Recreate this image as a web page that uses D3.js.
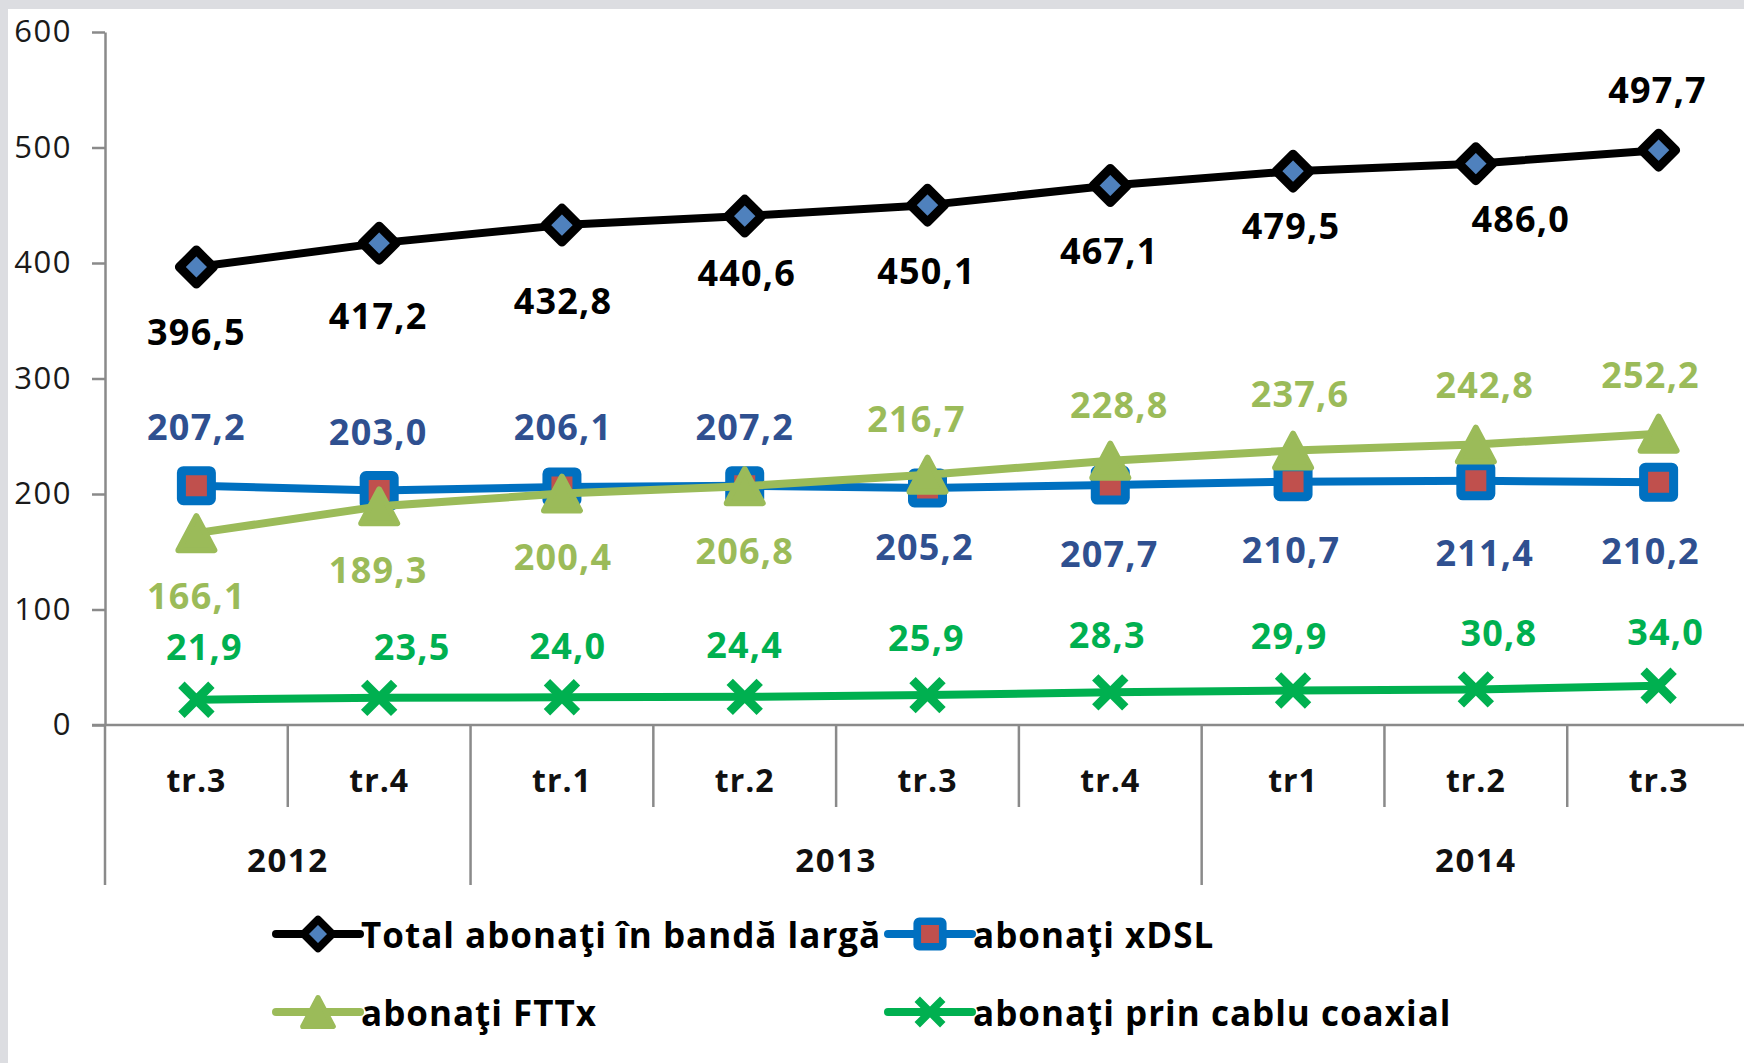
<!DOCTYPE html>
<html>
<head>
<meta charset="utf-8">
<script src="https://cdn.jsdelivr.net/npm/d3@7"></script>
<style>
  body { margin: 0; background: #dcdde1; }
  svg { display: block; }
  text { font-family: "Open Sans", "Noto Sans", sans-serif; }
</style>
</head>
<body>
<svg id="chart" width="1744" height="1063"></svg>
<script>
// data
const quarters = ["tr.3", "tr.4", "tr.1", "tr.2", "tr.3", "tr.4", "tr1", "tr.2", "tr.3"];
const years = ["2012", "2013", "2014"];
const quartersPerYear = [2, 4, 3];
const yTicks = [0, 100, 200, 300, 400, 500, 600];

const total = [396.5, 417.2, 432.8, 440.6, 450.1, 467.1, 479.5, 486.0, 497.7];
const xdsl = [207.2, 203.0, 206.1, 207.2, 205.2, 207.7, 210.7, 211.4, 210.2];
const fttx = [166.1, 189.3, 200.4, 206.8, 216.7, 228.8, 237.6, 242.8, 252.2];
const coax = [21.9, 23.5, 24.0, 24.4, 25.9, 28.3, 29.9, 30.8, 34.0];

const seriesNames = ["Total abonaţi în bandă largă", "abonaţi xDSL", "abonaţi FTTx", "abonaţi prin cablu coaxial"];

// label placement (pixel nudges, as placed by hand in the original)
const labelNudge = [
    { dx: [0, -1, 1, 2, -1, -1, -2, 45, -1], dy: [64, 72, 75, 56, 65, 65, 54, 55, -61] },
    { dx: [0, -1, 1, 0, -3, -1, -2, 9, -8], dy: [-59, -59, -60, -59, 59, 68, 68, 72, 68] },
    { dx: [0, -1, 1, 0, -11, 9, 7, 9, -8], dy: [62, 63, 63, 64, -56, -56, -57, -60, -59] },
    { dx: [8, 33, 6, 0, -1, -3, -4, 23, 7], dy: [-53, -51, -52, -52, -58, -58, -55, -57, -54] }
];

const series = [
    { name: seriesNames[0], values: total, line: "#000000", marker: "diamond", fill: "#4f81bd", labelColor: "#000000" },
    { name: seriesNames[1], values: xdsl, line: "#0070c0", marker: "square", fill: "#c0504d", labelColor: "#2f5090" },
    { name: seriesNames[2], values: fttx, line: "#9bbb59", marker: "triangle", fill: "#9bbb59", labelColor: "#9bbb59" },
    { name: seriesNames[3], values: coax, line: "#00b050", marker: "cross", fill: "none", labelColor: "#00b050" }
];

const svg = d3.select("#chart");
const axisColor = "#8a8a8a";

// white chart area
svg.append("rect")
    .attr("x", 8).attr("y", 9)
    .attr("width", 1744).attr("height", 1063)
    .attr("fill", "#ffffff");

// Scales
const x = d3.scaleBand()
    .domain(d3.range(quarters.length))
    .range([105, 1750])
    .padding(0);

const y = d3.scaleLinear()
    .domain([0, 600])
    .range([725, 32]);

const cx = i => x(i) + x.bandwidth() / 2;

// Y axis
const yAxis = svg.append("g")
    .attr("transform", "translate(105,0)")
    .call(d3.axisLeft(y).tickValues(yTicks).tickSize(13).tickPadding(20).tickSizeOuter(0));
yAxis.select(".domain").attr("stroke", axisColor).attr("stroke-width", 2.5);
yAxis.selectAll(".tick line").attr("stroke", axisColor).attr("stroke-width", 2.5);
yAxis.selectAll(".tick text")
    .style("font-family", "'Open Sans', sans-serif")
    .style("font-size", "31px")
    .style("letter-spacing", "1.5px")
    .attr("fill", "#1a1a1a");

// X axis line
svg.append("line")
    .attr("x1", 92).attr("x2", 1750)
    .attr("y1", y(0)).attr("y2", y(0))
    .attr("stroke", axisColor).attr("stroke-width", 2.5);

// quarter separators
const yearStarts = d3.cumsum([0].concat(quartersPerYear)).slice(0, -1);
d3.range(1, quarters.length).forEach(i => {
    const isYear = yearStarts.includes(i);
    svg.append("line")
        .attr("x1", x(i)).attr("x2", x(i))
        .attr("y1", y(0)).attr("y2", isYear ? 885 : 807)
        .attr("stroke", axisColor).attr("stroke-width", 2.5);
});
svg.append("line")
    .attr("x1", x(0)).attr("x2", x(0))
    .attr("y1", y(0)).attr("y2", 885)
    .attr("stroke", axisColor).attr("stroke-width", 2.5);

// quarter labels
svg.selectAll(".qlabel")
    .data(quarters)
    .join("text")
    .attr("class", "qlabel")
    .attr("x", (d, i) => cx(i))
    .attr("y", 779)
    .attr("text-anchor", "middle")
    .attr("dominant-baseline", "central")
    .style("font-size", "32px")
    .style("font-weight", "bold")
    .style("letter-spacing", "1px")
    .attr("fill", "#111")
    .text(d => d);

// year labels
svg.selectAll(".ylabel")
    .data(years)
    .join("text")
    .attr("class", "ylabel")
    .attr("x", (d, i) => {
        const a = x(yearStarts[i]);
        const b = x(yearStarts[i]) + quartersPerYear[i] * x.step();
        return (a + b) / 2;
    })
    .attr("y", 859)
    .attr("text-anchor", "middle")
    .attr("dominant-baseline", "central")
    .style("font-size", "33px")
    .style("font-weight", "bold")
    .style("letter-spacing", "1.5px")
    .attr("fill", "#111")
    .text(d => d);

// marker drawing
function drawMarker(g, type, color, fill, scale) {
    const k = scale || 1;
    if (type === "diamond") {
        const r = 17 * k;
        g.append("path")
            .attr("d", `M0,${-r}L${r},0L0,${r}L${-r},0Z`)
            .attr("fill", fill).attr("stroke", color)
            .attr("stroke-width", 9 * k).attr("stroke-linejoin", "round");
    } else if (type === "square") {
        const h = 15 * k;
        g.append("rect")
            .attr("x", -h).attr("y", -h).attr("width", 2 * h).attr("height", 2 * h)
            .attr("rx", 2)
            .attr("fill", fill).attr("stroke", color)
            .attr("stroke-width", 9 * k).attr("stroke-linejoin", "round");
    } else if (type === "triangle") {
        const w = 18 * k, h = 17 * k;
        g.append("path")
            .attr("d", `M0,${-h}L${w},${h}L${-w},${h}Z`)
            .attr("fill", fill).attr("stroke", color)
            .attr("stroke-width", 6 * k).attr("stroke-linejoin", "round");
    } else if (type === "cross") {
        const a = 15 * k;
        g.append("path")
            .attr("d", `M${-a},${-a}L${a},${a}M${a},${-a}L${-a},${a}`)
            .attr("fill", "none").attr("stroke", color)
            .attr("stroke-width", 9 * k);
    }
}

// Lines and markers
const line = d3.line()
    .x((d, i) => cx(i))
    .y(d => y(d));

series.forEach(s => {
    const g = svg.append("g").attr("class", "series");
    g.append("path")
        .datum(s.values)
        .attr("d", line)
        .attr("fill", "none")
        .attr("stroke", s.line)
        .attr("stroke-width", 8)
        .attr("stroke-linejoin", "round");
    s.values.forEach((v, i) => {
        const m = g.append("g").attr("transform", `translate(${cx(i)},${y(v)})`);
        drawMarker(m, s.marker, s.line, s.fill);
    });
});

// data labels
const fmt = v => d3.format(".1f")(v).replace(".", ",");
series.forEach((s, si) => {
    svg.append("g")
        .selectAll("text")
        .data(s.values)
        .join("text")
        .attr("x", (d, i) => cx(i) + labelNudge[si].dx[i])
        .attr("y", (d, i) => y(d) + labelNudge[si].dy[i])
        .attr("text-anchor", "middle")
        .attr("dominant-baseline", "central")
        .style("font-size", "36px")
        .style("font-weight", "bold")
        .style("letter-spacing", "1.2px")
        .attr("fill", s.labelColor)
        .text(d => fmt(d));
});

// Legend
const legendPos = [
    { x: 276, y: 934 },
    { x: 888, y: 934 },
    { x: 276, y: 1012 },
    { x: 888, y: 1012 }
];
series.forEach((s, i) => {
    const p = legendPos[i];
    const g = svg.append("g").attr("transform", `translate(${p.x},${p.y})`);
    g.append("line")
        .attr("x1", 0).attr("x2", 84)
        .attr("stroke", s.line).attr("stroke-width", 8)
        .attr("stroke-linecap", "round");
    const m = g.append("g").attr("transform", "translate(42,0)");
    drawMarker(m, s.marker, s.line, s.fill, 0.85);
    g.append("text")
        .attr("x", 85)
        .attr("dominant-baseline", "central")
        .style("font-size", "35px")
        .style("font-weight", "bold")
        .style("letter-spacing", "1px")
        .attr("fill", "#000")
        .text(s.name);
});
</script>
</body>
</html>
